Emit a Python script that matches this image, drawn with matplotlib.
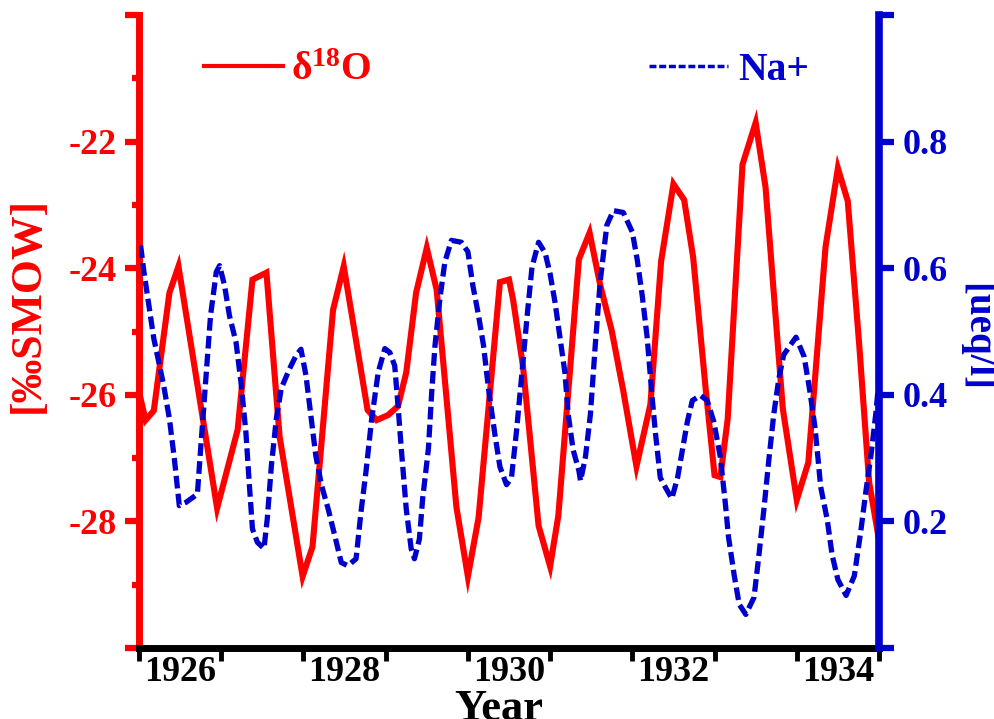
import matplotlib
matplotlib.use('Agg')
import matplotlib.pyplot as plt
from matplotlib.lines import Line2D

plt.rcParams['font.family'] = ['Liberation Serif', 'DejaVu Serif']
plt.rcParams['font.weight'] = 'bold'
plt.rcParams['axes.unicode_minus'] = False
plt.rcParams['mathtext.fontset'] = 'custom'
plt.rcParams['mathtext.rm'] = 'Liberation Serif:bold'
plt.rcParams['mathtext.it'] = 'Liberation Serif:italic:bold'
plt.rcParams['mathtext.bf'] = 'Liberation Serif:bold'

RED = '#FF0000'
BLUE = '#0000CD'

# ---- data ----
d18o_year = [1926.00, 1926.08, 1926.18, 1926.37, 1926.48, 1926.95, 1927.20, 1927.38,
             1927.55, 1927.71, 1927.99, 1928.11, 1928.36, 1928.49, 1928.78, 1928.89,
             1929.03, 1929.15, 1929.25, 1929.37, 1929.50, 1929.62, 1929.86, 1930.00,
             1930.13, 1930.39, 1930.50, 1930.55, 1930.67, 1930.86, 1931.00, 1931.10,
             1931.35, 1931.48, 1931.61, 1931.75, 1931.89, 1932.05, 1932.22, 1932.35,
             1932.50, 1932.63, 1932.74, 1932.89, 1933.00, 1933.07, 1933.16, 1933.34,
             1933.50, 1933.62, 1933.83, 1934.00, 1934.14, 1934.35, 1934.50, 1934.62,
             1934.76, 1934.88, 1934.99]
d18o_value = [-25.95, -26.40, -26.25, -24.39, -23.97, -27.79, -26.55, -24.18,
              -24.07, -26.66, -28.87, -28.40, -24.66, -23.97, -26.24, -26.40,
              -26.32, -26.18, -25.65, -24.39, -23.68, -24.34, -27.77, -28.87,
              -27.94, -24.22, -24.18, -24.50, -25.55, -28.07, -28.71, -27.91,
              -23.86, -23.44, -24.27, -24.99, -25.94, -27.13, -26.15, -23.89,
              -22.67, -22.92, -23.83, -25.88, -27.27, -27.30, -26.38, -22.36,
              -21.70, -22.72, -26.22, -27.66, -27.07, -23.66, -22.42, -22.94,
              -25.22, -27.38, -28.22]

na_year = [1926.02, 1926.06, 1926.12, 1926.18, 1926.24, 1926.30, 1926.37, 1926.43,
           1926.49, 1926.57, 1926.71, 1926.75, 1926.81, 1926.87, 1926.94, 1926.98,
           1927.04, 1927.10, 1927.18, 1927.24, 1927.30, 1927.34, 1927.38, 1927.44,
           1927.52, 1927.56, 1927.61, 1927.67, 1927.73, 1927.83, 1927.91, 1927.97,
           1928.03, 1928.09, 1928.15, 1928.22, 1928.30, 1928.38, 1928.46, 1928.54,
           1928.64, 1928.70, 1928.76, 1928.83, 1928.91, 1928.99, 1929.05, 1929.11,
           1929.15, 1929.19, 1929.25, 1929.31, 1929.35, 1929.41, 1929.45, 1929.52,
           1929.56, 1929.60, 1929.66, 1929.72, 1929.80, 1929.92, 1930.00, 1930.06,
           1930.13, 1930.19, 1930.25, 1930.33, 1930.39, 1930.47, 1930.53, 1930.59,
           1930.65, 1930.72, 1930.78, 1930.86, 1930.94, 1931.00, 1931.06, 1931.12,
           1931.18, 1931.22, 1931.28, 1931.35, 1931.37, 1931.43, 1931.49, 1931.55,
           1931.61, 1931.69, 1931.77, 1931.89, 1932.00, 1932.06, 1932.12, 1932.18,
           1932.24, 1932.28, 1932.34, 1932.41, 1932.48, 1932.55, 1932.61, 1932.67,
           1932.73, 1932.83, 1932.91, 1932.99, 1933.07, 1933.13, 1933.17, 1933.24,
           1933.30, 1933.38, 1933.48, 1933.54, 1933.60, 1933.66, 1933.72, 1933.78,
           1933.84, 1933.99, 1934.09, 1934.16, 1934.22, 1934.26, 1934.29, 1934.37,
           1934.43, 1934.50, 1934.60, 1934.70, 1934.78, 1934.84, 1934.90, 1934.96,
           1934.99]
na_value = [0.636, 0.594, 0.541, 0.489, 0.452, 0.415, 0.362, 0.299,
            0.225, 0.230, 0.243, 0.315, 0.420, 0.525, 0.594, 0.604,
            0.573, 0.525, 0.483, 0.420, 0.341, 0.262, 0.188, 0.167,
            0.157, 0.204, 0.288, 0.362, 0.410, 0.441, 0.462, 0.472,
            0.431, 0.367, 0.304, 0.257, 0.220, 0.178, 0.135, 0.130,
            0.141, 0.215, 0.278, 0.362, 0.436, 0.473, 0.467, 0.446,
            0.383, 0.315, 0.220, 0.157, 0.141, 0.172, 0.236, 0.315,
            0.404, 0.478, 0.552, 0.610, 0.644, 0.641, 0.626, 0.573,
            0.525, 0.478, 0.410, 0.336, 0.286, 0.258, 0.269, 0.341,
            0.424, 0.524, 0.602, 0.641, 0.624, 0.591, 0.546, 0.491,
            0.435, 0.369, 0.313, 0.280, 0.264, 0.302, 0.369, 0.480,
            0.580, 0.668, 0.691, 0.688, 0.657, 0.613, 0.557, 0.491,
            0.397, 0.341, 0.269, 0.252, 0.236, 0.269, 0.313, 0.358,
            0.391, 0.399, 0.391, 0.358, 0.302, 0.230, 0.175, 0.114,
            0.069, 0.053, 0.080, 0.147, 0.219, 0.297, 0.369, 0.424,
            0.463, 0.491, 0.460, 0.405, 0.350, 0.297, 0.255, 0.203,
            0.147, 0.108, 0.083, 0.114, 0.186, 0.247, 0.302, 0.369,
            0.410]

year_ticks = [1926, 1927, 1928, 1929, 1930, 1931, 1932, 1933, 1934, 1935]
year_label_pos = [1926.5, 1928.5, 1930.5, 1932.5, 1934.5]
year_labels = ['1926', '1928', '1930', '1932', '1934']
left_ticks = [-30, -28, -26, -24, -22, -20]
left_labels = ['', '-28', '-26', '-24', '-22', '']
left_minor = [-29, -27, -25, -23, -21]
right_ticks = [0.0, 0.2, 0.4, 0.6, 0.8, 1.0]
right_labels = ['', '0.2', '0.4', '0.6', '0.8', '']

W, H = 995, 719
fig = plt.figure(figsize=(W / 100, H / 100), dpi=100)
L, R, B, T = 139, 879, 648, 15
ax = fig.add_axes([L / W, 1 - B / H, (R - L) / W, (B - T) / H])
ax2 = ax.twinx()

ax.plot(d18o_year, d18o_value, color=RED, lw=4.4, solid_joinstyle='miter')
ax2.plot(na_year, na_value, color=BLUE, lw=3.8, dashes=(2.4, 1.0),
         dash_capstyle='butt', dash_joinstyle='round')

ax.set_xlim(1926, 1935)
ax.set_ylim(-30, -20)
ax2.set_ylim(0, 1)

for a in (ax, ax2):
    a.spines['top'].set_visible(False)
ax.spines['right'].set_visible(False)
ax2.spines['left'].set_visible(False)
ax2.spines['bottom'].set_visible(False)
ax.spines['left'].set_color(RED)
ax.spines['left'].set_linewidth(5.0)
ax.spines['bottom'].set_color('black')
ax.spines['bottom'].set_linewidth(5.0)
ax2.spines['right'].set_color(BLUE)
ax2.spines['right'].set_linewidth(5.5)

TL = 26
ax.set_xticks(year_ticks)
ax.set_xticklabels([''] * len(year_ticks))
ax.set_xticks(year_label_pos, minor=True)
ax.set_xticklabels(year_labels, minor=True)
ax.tick_params(axis='x', which='major', direction='out', length=9, width=3.5, color='black')
ax.tick_params(axis='x', which='minor', length=0, labelsize=TL, pad=6, labelcolor='black')

ax.set_yticks(left_ticks)
ax.set_yticklabels(left_labels)
ax.set_yticks(left_minor, minor=True)
ax.tick_params(axis='y', which='major', direction='out', length=10, width=4.5,
               color=RED, labelcolor=RED, labelsize=TL, pad=6)
ax.tick_params(axis='y', which='minor', direction='out', length=5, width=4.5, color=RED)

ax2.set_yticks(right_ticks)
ax2.set_yticklabels(right_labels)
ax2.tick_params(axis='y', which='major', direction='out', length=11, width=4.5,
                color=BLUE, labelcolor=BLUE, labelsize=TL, pad=6)

ax.set_xlabel('Year', fontsize=32, fontweight='bold')
ax.xaxis.set_label_coords((499 - L) / (R - L), (B - 689) / (B - T))

ax.set_ylabel('[‰SMOW]', fontsize=31.5, fontweight='bold', color=RED,
              va='center', ha='center', rotation_mode='anchor')
ax.yaxis.set_label_coords((28 - L) / (R - L), (B - 305) / (B - T))
ax2.set_ylabel('[ueq/l]', fontsize=28, fontweight='bold', color=BLUE, rotation=-90,
               va='center', ha='center', rotation_mode='anchor')
ax2.yaxis.set_label_coords((977 - L) / (R - L), (B - 337) / (B - T))

prop = {'size': 28.5, 'weight': 'bold', 'family': 'Liberation Serif'}
h_red = Line2D([], [], color=RED, lw=3.0)
h_blue = Line2D([], [], color=BLUE, lw=2.5, dashes=(2.0, 0.8), dash_capstyle='butt')
leg1 = ax2.legend(handles=[h_red], labels=['δ$^{\\mathrm{18}}$O'], loc='center left',
                  bbox_to_anchor=((204 - L) / (R - L), (B - 70) / (B - T)),
                  frameon=False, borderpad=0, borderaxespad=0, handlelength=2.0,
                  handletextpad=0.2, prop=prop, labelcolor=RED)
ax2.add_artist(leg1)
leg2 = ax2.legend(handles=[h_blue], labels=['Na+'], loc='center left',
                  bbox_to_anchor=((649 - L) / (R - L), (B - 70) / (B - T)),
                  frameon=False, borderpad=0, borderaxespad=0, handlelength=2.0,
                  handletextpad=0.25, prop=prop, labelcolor=BLUE)

fig.savefig('out.png', dpi=100)
